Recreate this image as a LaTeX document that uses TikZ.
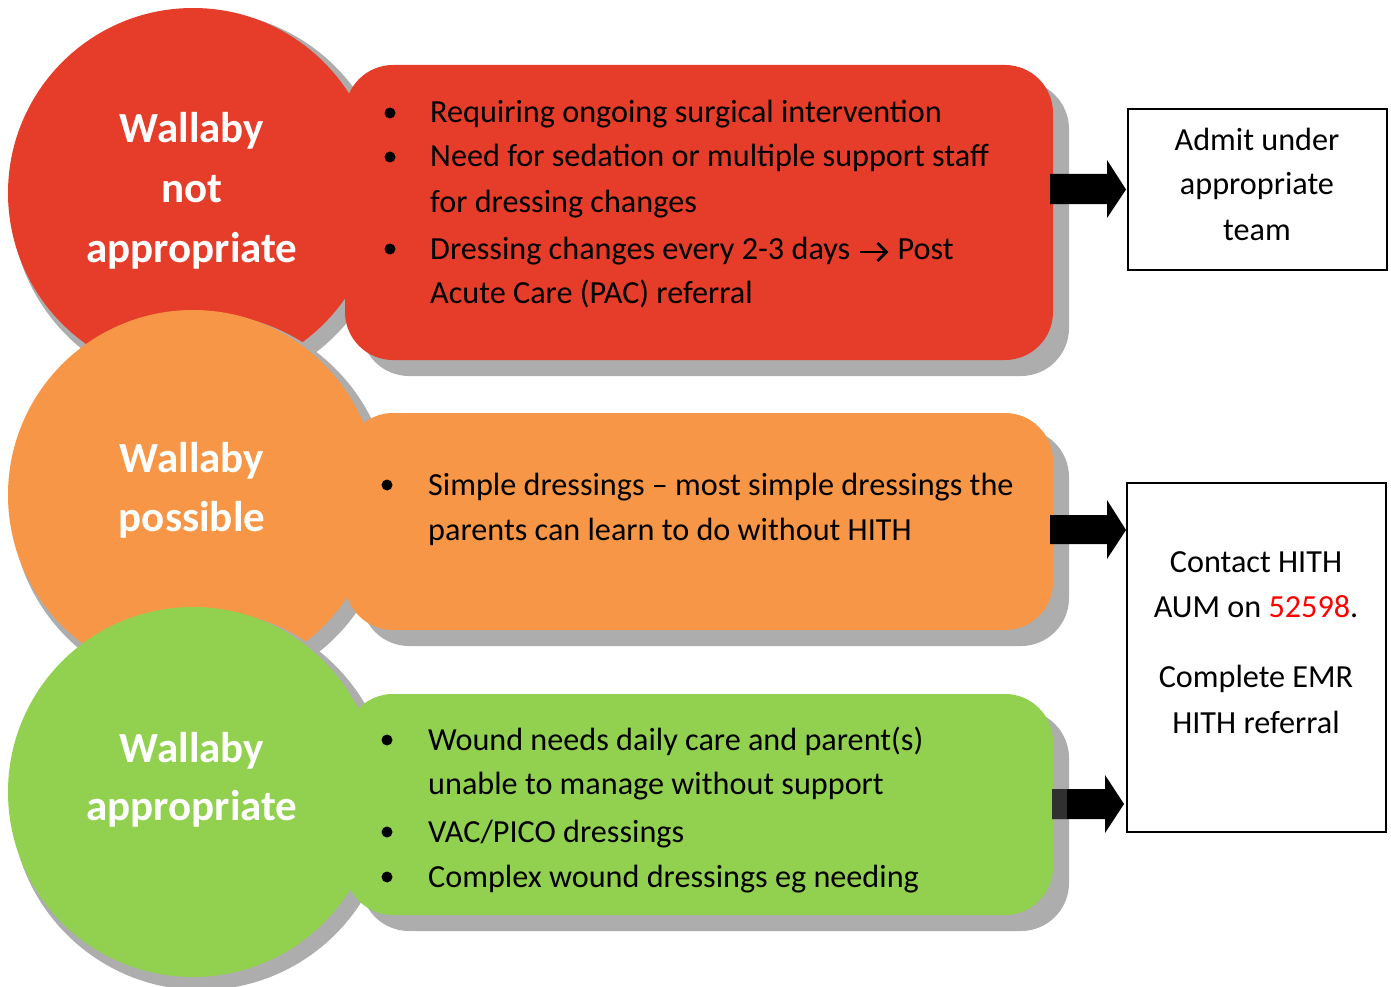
\documentclass[tikz,border=0pt]{standalone}
\usepackage{fontspec}
\setmainfont{Carlito}
\usetikzlibrary{calc}
\definecolor{cred}{RGB}{229,61,42}
\definecolor{corange}{RGB}{247,150,70}
\definecolor{cgreen}{RGB}{146,208,80}
\definecolor{cshadow}{RGB}{173,173,173}
\definecolor{cnum}{RGB}{255,0,0}
\definecolor{cdark}{RGB}{48,48,48}
\begin{document}
\begin{tikzpicture}[x=1pt,y=-1pt,
  circ/.style={circle, minimum size=370pt, inner sep=0pt},
  circshadow/.style={circle, minimum size=380pt, inner sep=0pt, fill=cshadow},
  panel/.style={rounded corners=48pt, minimum width=708pt, inner sep=0pt},
  body/.style={font=\fontsize{32.2}{38}\selectfont, inner sep=0pt, anchor=base west},
  outtext/.style={font=\fontsize{32.2}{38}\selectfont, inner sep=0pt, anchor=base},
  title/.style={font=\bfseries\fontsize{43}{50}\selectfont, text=white, inner sep=0pt, anchor=base},
  bul/.style={circle, fill=black, minimum size=11pt, inner sep=0pt},
  outcome/.style={draw=black, line width=1.5pt, inner sep=0pt, fill=white},
  blockarrow/.style={fill=black},
  textarrow/.style={draw=black, line width=2.8pt, line join=miter}
]
\useasboundingbox (0,0) rectangle (1391,987);
\fill[white] (0,0) rectangle (1391,987);

% ---------- red row ----------
\node[circshadow] (redcs) at (201,201) {};
\node[panel, fill=cshadow, minimum height=295pt] (redbs) at (715,228.5) {};
\node[circ, fill=cred] (redc) at (193,193) {};
\node[panel, fill=cred, minimum height=295pt] (redbox) at (699,212.5) {};

% ---------- orange row ----------
\node[circshadow] (orcs) at (201,503) {};
\node[panel, fill=cshadow, minimum height=217pt] (orbs) at (715,537.5) {};
\node[circ, fill=corange] (orc) at (193,495) {};
\node[panel, fill=corange, minimum height=217pt] (orbox) at (699,521.5) {};

% ---------- green row ----------
\node[circshadow] (grcs) at (201,800) {};
\node[panel, fill=cshadow, minimum height=221pt] (grbs) at (715,820.5) {};
\node[circ, fill=cgreen] (grc) at (193,792) {};
\node[panel, fill=cgreen, minimum height=221pt] (grbox) at (699,804.5) {};

% ---------- outcome boxes ----------
\node[outcome, minimum width=259pt, minimum height=161pt] (out1) at (1257.5,189.5) {};
\node[outcome, minimum width=259pt, minimum height=349pt] (out2) at (1256.5,657.5) {};

% ---------- block arrows ----------
\fill[blockarrow] (1050,174) -- (1107,174) -- (1107,160) -- (1126,189.5) -- (1107,218) -- (1107,204) -- (1050,204) -- cycle;
\fill[blockarrow] (1050,515) -- (1107,515) -- (1107,500) -- (1126,530) -- (1107,559) -- (1107,544) -- (1050,544) -- cycle;
\fill[blockarrow] (1052,789) -- (1105,789) -- (1105,775) -- (1124,804) -- (1105,833) -- (1105,819) -- (1052,819) -- cycle;
\fill[cdark] (1052,789) rectangle (1067,819);

% ---------- circle titles ----------
\node[title] (t1a) at (192,143) {Wallaby};
\node[title] (t1b) at (192,202) {not};
\node[title] (t1c) at (192,262) {appropriate};
\node[title] (t2a) at (192,472) {Wallaby};
\node[title] (t2b) at (192,531) {possible};
\node[title] (t3a) at (192,762) {Wallaby};
\node[title] (t3b) at (192,820) {appropriate};

% ---------- red box text ----------
\node[bul] (b1) at (390,113) {};
\node[body] (r1) at (430,123) {Requiring ongoing surgical intervention};
\node[bul] (b2) at (390,157) {};
\node[body] (r2) at (430,167) {Need for sedation or multiple support staff};
\node[body] (r3) at (430,212) {for dressing changes};
\node[bul] (b3) at (390,249) {};
\node[body] (r4a) at (430,259) {Dressing changes every 2-3 days};
\coordinate (ar0) at ($(r4a.base east)+(10,-7)$);
\coordinate (ar1) at ($(ar0)+(26,0)$);
\draw[textarrow] (ar0) -- ($(ar1)+(-1.5,0)$);
\draw[textarrow] ($(ar1)+(-9,-9)$) -- (ar1) -- ($(ar1)+(-9,9)$);
\node[body] (r4b) at ($(r4a.base east)+(47,0)$) {Post};
\node[body] (r5) at (430,303) {Acute Care (PAC) referral};

% ---------- orange box text ----------
\node[bul] (b4) at (387,485) {};
\node[body] (o1) at (428,495) {Simple dressings – most simple dressings the};
\node[body] (o2) at (428,540) {parents can learn to do without HITH};

% ---------- green box text ----------
\node[bul] (b5) at (387,740) {};
\node[body] (g1) at (428,750) {Wound needs daily care and parent(s)};
\node[body] (g2) at (428,794) {unable to manage without support};
\node[bul] (b6) at (387,832) {};
\node[body] (g3) at (428,842) {VAC/PICO dressings};
\node[bul] (b7) at (387,877) {};
\node[body] (g4) at (428,887) {Complex wound dressings eg needing};

% ---------- outcome text ----------
\node[outtext] (x1) at (1257,151) {Admit under};
\node[outtext] (x2) at (1257,195) {appropriate};
\node[outtext] (x3) at (1257,240) {team};
\node[outtext] (y1) at (1256,572) {Contact HITH};
\node[outtext] (y2) at (1256,617) {AUM on {\color{cnum}52598}.};
\node[outtext] (y3) at (1256,687) {Complete EMR};
\node[outtext] (y4) at (1256,733) {HITH referral};
\end{tikzpicture}
\end{document}
